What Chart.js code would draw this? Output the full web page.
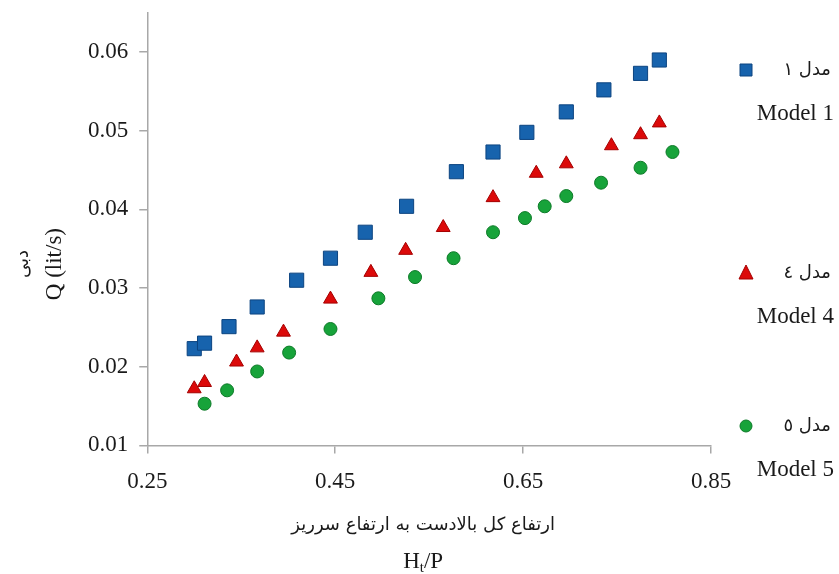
<!DOCTYPE html>
<html>
<head>
<meta charset="utf-8">
<script src="https://cdn.jsdelivr.net/npm/chart.js@4.4.1/dist/chart.umd.min.js"></script>
<style>
  html, body { margin: 0; padding: 0; background: #fff; overflow: hidden; }
  /* canvas is a little taller and pulled up so the y axis can start near the top edge */
  #wrap { width: 839px; height: 586px; position: relative; top: -12px; }
</style>
</head>
<body>
<div id="wrap"><canvas id="scatterChart"></canvas></div>
<script>
// values (x = Ht/P, y = Q in lit/s)
var model1X = [0.300, 0.311, 0.337, 0.367, 0.409, 0.445, 0.482, 0.526, 0.579, 0.618, 0.654, 0.696, 0.736, 0.775, 0.795];
var model1Y = [0.0223, 0.0230, 0.0251, 0.0276, 0.0310, 0.0338, 0.0371, 0.0404, 0.0448, 0.0473, 0.0498, 0.0524, 0.0552, 0.0573, 0.0590];

var model4X = [0.300, 0.311, 0.345, 0.367, 0.395, 0.445, 0.488, 0.525, 0.565, 0.618, 0.664, 0.696, 0.744, 0.775, 0.795];
var model4Y = [0.0172, 0.0180, 0.0206, 0.0224, 0.0244, 0.0286, 0.0320, 0.0348, 0.0377, 0.0415, 0.0446, 0.0458, 0.0481, 0.0495, 0.0510];

var model5X = [0.311, 0.335, 0.367, 0.401, 0.445, 0.496, 0.535, 0.576, 0.618, 0.652, 0.673, 0.696, 0.733, 0.775, 0.809];
var model5Y = [0.0153, 0.0170, 0.0194, 0.0218, 0.0248, 0.0287, 0.0314, 0.0338, 0.0371, 0.0389, 0.0404, 0.0417, 0.0434, 0.0453, 0.0473];

var seriesFa = ["مدل ١", "مدل ٤", "مدل ٥"];
var seriesEn = ["Model 1", "Model 4", "Model 5"];

var xTicks = [0.25, 0.45, 0.65, 0.85];
var yTicks = [0.01, 0.02, 0.03, 0.04, 0.05, 0.06];

var xTitleFa = "ارتفاع کل بالادست به ارتفاع سرریز";
var yTitleFa = "دبی";
var yTitleEn = "Q (lit/s)";

function pairs(xs, ys) {
    return xs.map(function (x, i) { return { x: x, y: ys[i] }; });
}

var serif = "'Liberation Serif', 'Times New Roman', 'DejaVu Serif', serif";
var textColor = '#1a1a1a';
var shift = 12; // canvas is moved up by this much

// axis titles, drawn by hand so they sit where the original has them
var axisTitles = {
    id: 'axisTitles',
    afterDraw: function (chart) {
        var ctx = chart.ctx;
        var area = chart.chartArea;
        var cx = (area.left + area.right) / 2 - 6;
        ctx.save();
        ctx.fillStyle = textColor;
        ctx.textAlign = 'center';
        ctx.textBaseline = 'middle';

        // x title: persian line, then H_t/P
        ctx.font = "18px 'DejaVu Sans', " + serif;
        ctx.fillText(xTitleFa, cx, area.bottom + 80);

        ctx.font = "23px " + serif;
        var y2 = area.bottom + 117;
        var wH = ctx.measureText("H").width;
        var wP = ctx.measureText("/P").width;
        ctx.font = "15px " + serif;
        var wt = ctx.measureText("t").width;
        var x0 = cx - (wH + wt + wP) / 2;
        ctx.textAlign = 'left';
        ctx.font = "23px " + serif;
        ctx.fillText("H", x0, y2);
        ctx.font = "15px " + serif;
        ctx.fillText("t", x0 + wH, y2 + 6);
        ctx.font = "23px " + serif;
        ctx.fillText("/P", x0 + wH + wt, y2);

        // y title, rotated
        var cy = (area.top + area.bottom) / 2 + 35;
        ctx.textAlign = 'center';
        ctx.translate(0, cy);
        ctx.rotate(-Math.PI / 2);
        ctx.font = "18px 'DejaVu Sans', " + serif;
        ctx.fillText(yTitleFa, 0, 23);
        ctx.font = "23px " + serif;
        ctx.fillText(yTitleEn, 0, 55);
        ctx.restore();
    }
};

// legend drawn on the right, two lines per series
var sideLegend = {
    id: 'sideLegend',
    afterDraw: function (chart) {
        var ctx = chart.ctx;
        var rowsY = [70, 273, 426];
        var mx = 746;
        ctx.save();
        chart.data.datasets.forEach(function (ds, i) {
            var y = rowsY[i] + shift;
            var r = ds.legendRadius;
            ctx.fillStyle = ds.backgroundColor;
            ctx.strokeStyle = ds.borderColor;
            ctx.lineWidth = 1;
            ctx.beginPath();
            if (ds.pointStyle === 'rect') {
                ctx.rect(mx - r, y - r, 2 * r, 2 * r);
            } else if (ds.pointStyle === 'triangle') {
                ctx.moveTo(mx, y - r - 2);
                ctx.lineTo(mx + r + 1, y + r);
                ctx.lineTo(mx - r - 1, y + r);
                ctx.closePath();
            } else {
                ctx.arc(mx, y, r, 0, Math.PI * 2);
            }
            ctx.fill();
            ctx.stroke();

            ctx.fillStyle = textColor;
            ctx.textBaseline = 'middle';
            ctx.textAlign = 'right';
            ctx.font = "18px 'DejaVu Sans', " + serif;
            ctx.fillText(seriesFa[i], 831, y);
            ctx.font = "23px " + serif;
            ctx.fillText(seriesEn[i], 834, y + 44);
        });
        ctx.restore();
    }
};

var ctx = document.getElementById("scatterChart");

var myChart = new Chart(ctx, {
    type: 'scatter',
    data: {
        datasets: [
            {
                label: seriesEn[0],
                data: pairs(model1X, model1Y),
                pointStyle: 'rect',
                pointRadius: 10,
                legendRadius: 6,
                backgroundColor: "#1763ad",
                borderColor: "#0c4480",
                borderWidth: 1
            },
            {
                label: seriesEn[1],
                data: pairs(model4X, model4Y),
                pointStyle: 'triangle',
                pointRadius: 8,
                legendRadius: 6,
                backgroundColor: "#dc0a0a",
                borderColor: "#a40000",
                borderWidth: 1
            },
            {
                label: seriesEn[2],
                data: pairs(model5X, model5Y),
                pointStyle: 'circle',
                pointRadius: 6.5,
                legendRadius: 6,
                backgroundColor: "#17a33a",
                borderColor: "#0d7a28",
                borderWidth: 1
            }
        ]
    },
    options: {
        responsive: true,
        maintainAspectRatio: false,
        animation: false,
        layout: {
            padding: { top: 0, right: 128, left: 77, bottom: 63 }
        },
        plugins: {
            legend: { display: false },
            tooltip: { enabled: false }
        },
        scales: {
            x: {
                type: 'linear',
                min: 0.25,
                max: 0.85,
                afterBuildTicks: function (axis) {
                    axis.ticks = xTicks.map(function (v) { return { value: v }; });
                },
                ticks: {
                    color: textColor,
                    font: { family: serif, size: 23 },
                    padding: 15,
                    maxRotation: 0,
                    callback: function (v) { return Number(v).toFixed(2); }
                },
                grid: {
                    drawOnChartArea: false,
                    drawTicks: true,
                    tickLength: 8,
                    color: '#a8a8a8',
                    lineWidth: 1.5
                },
                border: { color: '#a8a8a8', width: 1.5 }
            },
            y: {
                type: 'linear',
                min: 0.01,
                max: 0.065,
                afterBuildTicks: function (axis) {
                    axis.ticks = yTicks.map(function (v) { return { value: v }; });
                },
                ticks: {
                    color: textColor,
                    font: { family: serif, size: 23 },
                    padding: 11,
                    callback: function (v) { return Number(v).toFixed(2); }
                },
                grid: {
                    drawOnChartArea: false,
                    drawTicks: true,
                    tickLength: 8,
                    color: '#a8a8a8',
                    lineWidth: 1.5
                },
                border: { color: '#a8a8a8', width: 1.5 }
            }
        }
    },
    plugins: [axisTitles, sideLegend]
});
</script>
</body>
</html>
